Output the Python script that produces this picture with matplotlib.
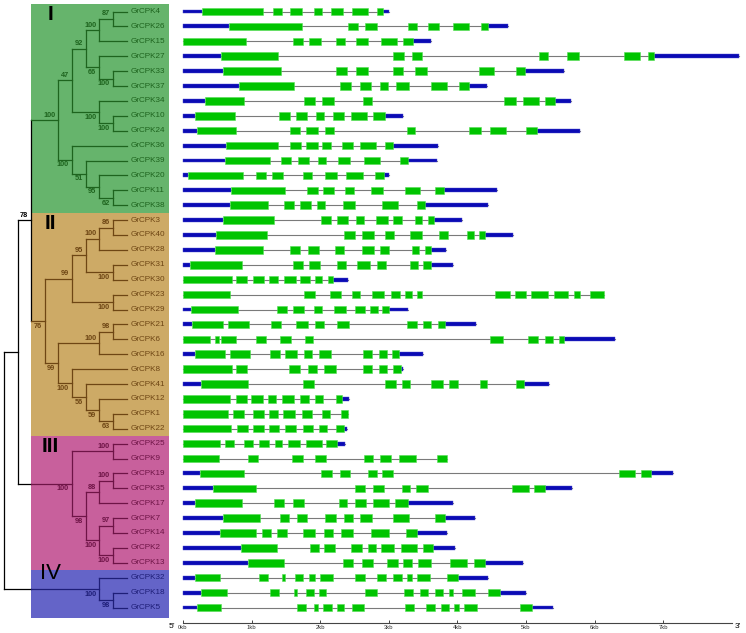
import matplotlib
matplotlib.use("Agg")
import matplotlib.pyplot as plt

plt.rcParams["font.family"] = ["Liberation Sans", "DejaVu Sans"]

# phylogeny (bootstrap values as internal labels)
clade_1 = ("((((GrCPK4,GrCPK26)87,GrCPK15)100,(GrCPK27,(GrCPK33,GrCPK37)100)66)92,"
           "(GrCPK34,(GrCPK10,GrCPK24)100)100)47")
group_1 = "(" + clade_1 + ",(GrCPK36,(GrCPK39,(GrCPK20,(GrCPK11,GrCPK38)62)95)51)100)100"
group_2 = ("(((((GrCPK3,GrCPK40)86,GrCPK28)100,(GrCPK31,GrCPK30)100)95,(GrCPK23,GrCPK29)100)99,"
           "(((GrCPK21,GrCPK6)98,GrCPK16)100,(GrCPK8,(GrCPK41,(GrCPK12,(GrCPK1,GrCPK22)63)59)56)100)99)76")
group_3 = ("((GrCPK25,GrCPK9)100,(((GrCPK19,GrCPK35)100,GrCPK17)88,"
           "((GrCPK7,GrCPK14)97,(GrCPK2,GrCPK13)100)100)98)100")
group_4 = "(GrCPK32,(GrCPK18,GrCPK5)98)100"
newick = "(((" + group_1 + "," + group_2 + ")78," + group_3 + ")," + group_4 + ");"

group_names = ["I", "II", "III", "IV"]
group_sizes = [14, 15, 9, 3]
box_colors = ["#66b46c", "#cdaa66", "#c8609c", "#6464c8"]
line_colors = ["#1e641e", "#6e4614", "#6e1446", "#1e1e78"]

# gene structures (bp): gene length and exon boundaries start,end,start,end...
genes = ["GrCPK4", "GrCPK26", "GrCPK15", "GrCPK27", "GrCPK33", "GrCPK37", "GrCPK34",
         "GrCPK10", "GrCPK24", "GrCPK36", "GrCPK39", "GrCPK20", "GrCPK11", "GrCPK38",
         "GrCPK3", "GrCPK40", "GrCPK28", "GrCPK31", "GrCPK30", "GrCPK23", "GrCPK29",
         "GrCPK21", "GrCPK6", "GrCPK16", "GrCPK8", "GrCPK41", "GrCPK12", "GrCPK1",
         "GrCPK22", "GrCPK25", "GrCPK9", "GrCPK19", "GrCPK35", "GrCPK17", "GrCPK7",
         "GrCPK14", "GrCPK2", "GrCPK13", "GrCPK32", "GrCPK18", "GrCPK5"]
gene_len = [3010, 4740, 3610, 8110, 5560, 4430, 5660, 3200, 5790, 3720, 3700, 3010, 4580, 4450,
            4060, 4810, 3840, 3935, 2400, 6142, 3280, 4270, 6300, 3500, 3205, 5330, 2420, 2398,
            2390, 2360, 3842, 7140, 5670, 3930, 4250, 3850, 3970, 4960, 4450, 5000, 5400]
exon_bounds = [
    [272, 1161, 1308, 1444, 1564, 1728, 1907, 2033, 2153, 2327, 2463, 2698, 2834, 2916],
    [670, 1728, 2398, 2545, 2660, 2823, 3281, 3406, 3570, 3733, 3935, 4169, 4338, 4442],
    [0, 916, 1597, 1755, 1842, 2006, 2235, 2360, 2529, 2703, 2889, 3117, 3210, 3352],
    [556, 1390, 3068, 3216, 3335, 3488, 5194, 5325, 5597, 5766, 6431, 6665, 6780, 6872],
    [589, 1433, 2235, 2387, 2529, 2698, 3068, 3205, 3379, 3564, 4311, 4540, 4861, 4987],
    [823, 1624, 2294, 2453, 2583, 2741, 2872, 2992, 3112, 3297, 3608, 3842, 4017, 4169],
    [327, 883, 1760, 1918, 2033, 2196, 2621, 2752, 4676, 4856, 4960, 5183, 5281, 5423],
    [180, 752, 1406, 1553, 1651, 1809, 1940, 2060, 2185, 2354, 2453, 2687, 2763, 2943],
    [207, 779, 1553, 1706, 1793, 1962, 2066, 2196, 3265, 3379, 4169, 4349, 4469, 4703, 5003, 5156],
    [632, 1379, 1564, 1717, 1793, 1962, 2033, 2153, 2311, 2480, 2578, 2807, 2948, 3068],
    [616, 1275, 1428, 1581, 1673, 1831, 1962, 2087, 2262, 2436, 2643, 2872, 3156, 3286],
    [71, 877, 1057, 1215, 1303, 1461, 1755, 1886, 2066, 2240, 2382, 2621, 2796, 2927],
    [698, 1493, 1809, 1967, 2038, 2207, 2360, 2496, 2741, 2921, 3232, 3461, 3673, 3799],
    [692, 1237, 1472, 1619, 1700, 1864, 1951, 2076, 2338, 2507, 2894, 3134, 3406, 3532],
    [583, 1324, 2006, 2153, 2251, 2409, 2518, 2643, 2807, 2987, 3057, 3194, 3379, 3488, 3575, 3652],
    [474, 1221, 2354, 2502, 2611, 2780, 2943, 3074, 3303, 3477, 3728, 3870, 4137, 4246, 4322, 4404],
    [469, 1172, 1553, 1706, 1826, 1989, 2213, 2344, 2611, 2790, 2867, 2998, 3335, 3444, 3532, 3613],
    [109, 861, 1608, 1755, 1831, 1995, 2240, 2376, 2540, 2720, 2823, 2965, 3308, 3423, 3499, 3608],
    [0, 714, 779, 937, 1019, 1183, 1259, 1390, 1472, 1651, 1711, 1848, 1918, 2033, 2109, 2191],
    [0, 681, 1771, 1929, 2136, 2300, 2458, 2583, 2752, 2932, 3025, 3156, 3232, 3341, 3417, 3488,
     4551, 4769, 4834, 4998, 5069, 5325, 5406, 5619, 5701, 5782, 5935, 6142],
    [120, 801, 1363, 1515, 1602, 1766, 1913, 2033, 2207, 2382, 2512, 2649, 2730, 2839, 2899, 2998],
    [136, 578, 659, 965, 1281, 1433, 1651, 1815, 1924, 2049, 2240, 2420, 3265, 3406, 3504, 3613, 3722, 3815],
    [0, 387, 469, 518, 550, 774, 1063, 1215, 1412, 1581, 1782, 1902, 4480, 4660, 5030, 5178, 5276, 5396, 5477, 5559],
    [174, 605, 681, 981, 1270, 1417, 1493, 1662, 1760, 1886, 1984, 2164, 2621, 2758, 2856, 2970, 3052, 3145],
    [0, 714, 779, 937, 1542, 1706, 1820, 1951, 2060, 2235, 2621, 2758, 2856, 2970, 3057, 3177],
    [256, 954, 1755, 1913, 2948, 3112, 3188, 3308, 3608, 3788, 3875, 4011, 4327, 4431, 4861, 4965],
    [0, 687, 779, 927, 997, 1161, 1232, 1357, 1439, 1619, 1700, 1842, 1924, 2038, 2224, 2316],
    [0, 649, 736, 888, 1019, 1183, 1259, 1390, 1461, 1635, 1739, 1875, 2022, 2136, 2300, 2398],
    [0, 698, 790, 943, 1019, 1183, 1259, 1395, 1482, 1651, 1755, 1897, 1989, 2104, 2229, 2344],
    [0, 534, 610, 741, 883, 1019, 1101, 1259, 1335, 1450, 1526, 1706, 1793, 2027, 2087, 2240],
    [0, 529, 954, 1090, 1591, 1744, 1924, 2082, 2643, 2769, 2867, 3036, 3150, 3395, 3701, 3842],
    [245, 888, 2006, 2169, 2284, 2436, 2698, 2823, 2894, 3068, 6349, 6595, 6671, 6823],
    [441, 1068, 2507, 2654, 2769, 2932, 3188, 3308, 3401, 3570, 4801, 5041, 5123, 5270],
    [180, 861, 1324, 1477, 1597, 1760, 2267, 2393, 2502, 2671, 2769, 3003, 3096, 3275],
    [589, 1117, 1417, 1542, 1662, 1804, 2071, 2229, 2344, 2474, 2578, 2758, 3063, 3297, 3668, 3826],
    [540, 1057, 1145, 1281, 1363, 1510, 1755, 1918, 2060, 2185, 2300, 2474, 2747, 2998, 3254, 3406],
    [839, 1368, 1848, 1984, 2060, 2213, 2447, 2611, 2698, 2812, 2889, 3074, 3172, 3406, 3499, 3641],
    [948, 1477, 2333, 2474, 2605, 2769, 2970, 3134, 3205, 3341, 3428, 3608, 3897, 4142, 4240, 4404],
    [169, 534, 1101, 1237, 1444, 1493, 1635, 1755, 1842, 1929, 2000, 2185, 2512, 2654, 2829, 2959,
     3068, 3188, 3259, 3335, 3412, 3597, 3842, 4006],
    [267, 643, 1264, 1401, 1619, 1657, 1793, 1913, 1989, 2082, 2649, 2823, 3221, 3357, 3455, 3575,
     3673, 3793, 3880, 3940, 4060, 4251, 4447, 4627],
    [210, 553, 1663, 1796, 1912, 1967, 2044, 2177, 2243, 2343, 2464, 2641, 3238, 3370, 3547, 3674,
     3757, 3879, 3950, 4022, 4094, 4282, 4906, 5089],
]
scale_ticks = [0, 1000, 2000, 3000, 4000, 5000, 6000, 7000]
scale_labels = ["0kb", "1kb", "2kb", "3kb", "4kb", "5kb", "6kb", "7kb"]


def parse(s):
    pos = 0

    def node():
        nonlocal pos
        if s[pos] == "(":
            pos += 1
            kids = [node()]
            while s[pos] == ",":
                pos += 1
                kids.append(node())
            pos += 1
            start = pos
            while s[pos] not in ",);":
                pos += 1
            return {"kids": kids, "support": s[start:pos]}
        start = pos
        while s[pos] not in ",);":
            pos += 1
        return {"name": s[start:pos]}

    return node()


W, H = 746, 633
fig = plt.figure(figsize=(W / 100, H / 100), dpi=100)
ylim = ((H - 11.5) / 14.9, -11.5 / 14.9)

tx = fig.add_axes([0, 0, 170 / W, 1])
tx.set_xlim(-4 / 13.62, 166 / 13.62)
tx.set_ylim(*ylim)
tx.axis("off")

gx = fig.add_axes([170 / W, 0, (W - 170) / W, 1])
gx.set_xlim((170 - 183) / 0.0686, (W - 183) / 0.0686)
gx.set_ylim(*ylim)
gx.axis("off")

# coloured group boxes
leaf_group = {}
row = 0
box_left = 1.98
for gi, n in enumerate(group_sizes):
    y0 = row - 0.5
    y1 = row + n - 0.5 if gi < 3 else row + n - 0.32
    tx.axhspan(y0, y1, xmin=(box_left * 13.62 + 4) / 170, xmax=169 / 170,
               color=box_colors[gi], lw=0, zorder=0)
    for g in genes[row:row + n]:
        leaf_group[g] = gi
    big = gi == 3
    tx.text(3.42, row + (0.22 if not big else -0.28), group_names[gi], ha="center", va="center",
            fontsize=16 if big else 15, fontweight="normal" if big else "bold", color="black")
    row += n

tree = parse(newick)
leaf_level = 9
counter = [0]


def layout(nd):
    if "name" in nd:
        nd["y"] = counter[0]
        counter[0] += 1
        nd["h"] = 0
        nd["grp"] = leaf_group[nd["name"]]
        return
    for k in nd["kids"]:
        layout(k)
    nd["y"] = (nd["kids"][0]["y"] + nd["kids"][-1]["y"]) / 2
    nd["h"] = max(k["h"] for k in nd["kids"]) + 1
    grps = {k["grp"] for k in nd["kids"]}
    nd["grp"] = grps.pop() if len(grps) == 1 and None not in grps else None


layout(tree)


def xpos(nd):
    return leaf_level - nd["h"]


def draw(nd, parent_x, first):
    x = xpos(nd)
    y = nd["y"]
    col = line_colors[nd["grp"]] if nd["grp"] is not None else "black"
    if parent_x is not None:
        if nd["grp"] is not None and parent_x < box_left:
            tx.plot([parent_x, box_left], [y, y], color="black", lw=0.9, zorder=2)
            tx.plot([box_left, x], [y, y], color=col, lw=0.9, zorder=2)
        else:
            tx.plot([parent_x, x], [y, y], color=col, lw=0.9, zorder=2)
    if "name" in nd:
        tx.text(x + 0.27, y, nd["name"], ha="left", va="center", fontsize=5.9, color=col)
        return
    tx.plot([x, x], [nd["kids"][0]["y"], nd["kids"][-1]["y"]], color=col, lw=0.9, zorder=2)
    if nd["support"]:
        if first:
            tx.text(x - 0.22, y - 0.1, nd["support"], ha="right", va="bottom",
                    fontsize=5.3, fontweight="bold", color=col)
        else:
            tx.text(x - 0.22, y + 0.12, nd["support"], ha="right", va="top",
                    fontsize=5.3, fontweight="bold", color=col)
    for i, k in enumerate(nd["kids"]):
        draw(k, x, i == 0)


draw(tree, None, True)

# gene structures
for r, name in enumerate(genes):
    length = gene_len[r]
    b = exon_bounds[r]
    exons = [(s, e - s) for s, e in zip(b[::2], b[1::2])]
    gx.plot([0, length], [r, r], color="#7a7a7a", lw=0.8, zorder=1)
    if b[0] > 0:
        gx.broken_barh([(0, b[0])], (r - 0.13, 0.26), facecolor="#0a0ab4",
                       edgecolor="#4a4ad0", lw=0.3, zorder=2)
    if length > b[-1]:
        gx.broken_barh([(b[-1], length - b[-1])], (r - 0.13, 0.26), facecolor="#0a0ab4",
                       edgecolor="#4a4ad0", lw=0.3, zorder=2)
    gx.broken_barh(exons, (r - 0.25, 0.5), facecolor="#00c400", edgecolor="#55dd55",
                   lw=0.4, zorder=3)

# kb scale
ay = 41.06
gx.plot([0, 8000], [ay, ay], color="#444444", lw=0.8)
gx.vlines(scale_ticks, ay - 0.22, ay, color="#444444", lw=0.7)
for t, lab in zip(scale_ticks, scale_labels):
    gx.text(t, ay + 0.3, lab, ha="center", va="center", fontsize=4.2, color="#333333")
gx.text(-160, ay + 0.2, "5\u2019", ha="center", va="center", fontsize=6)
gx.text(8090, ay + 0.2, "3\u2019", ha="center", va="center", fontsize=6)

fig.savefig("out.png", dpi=100)
